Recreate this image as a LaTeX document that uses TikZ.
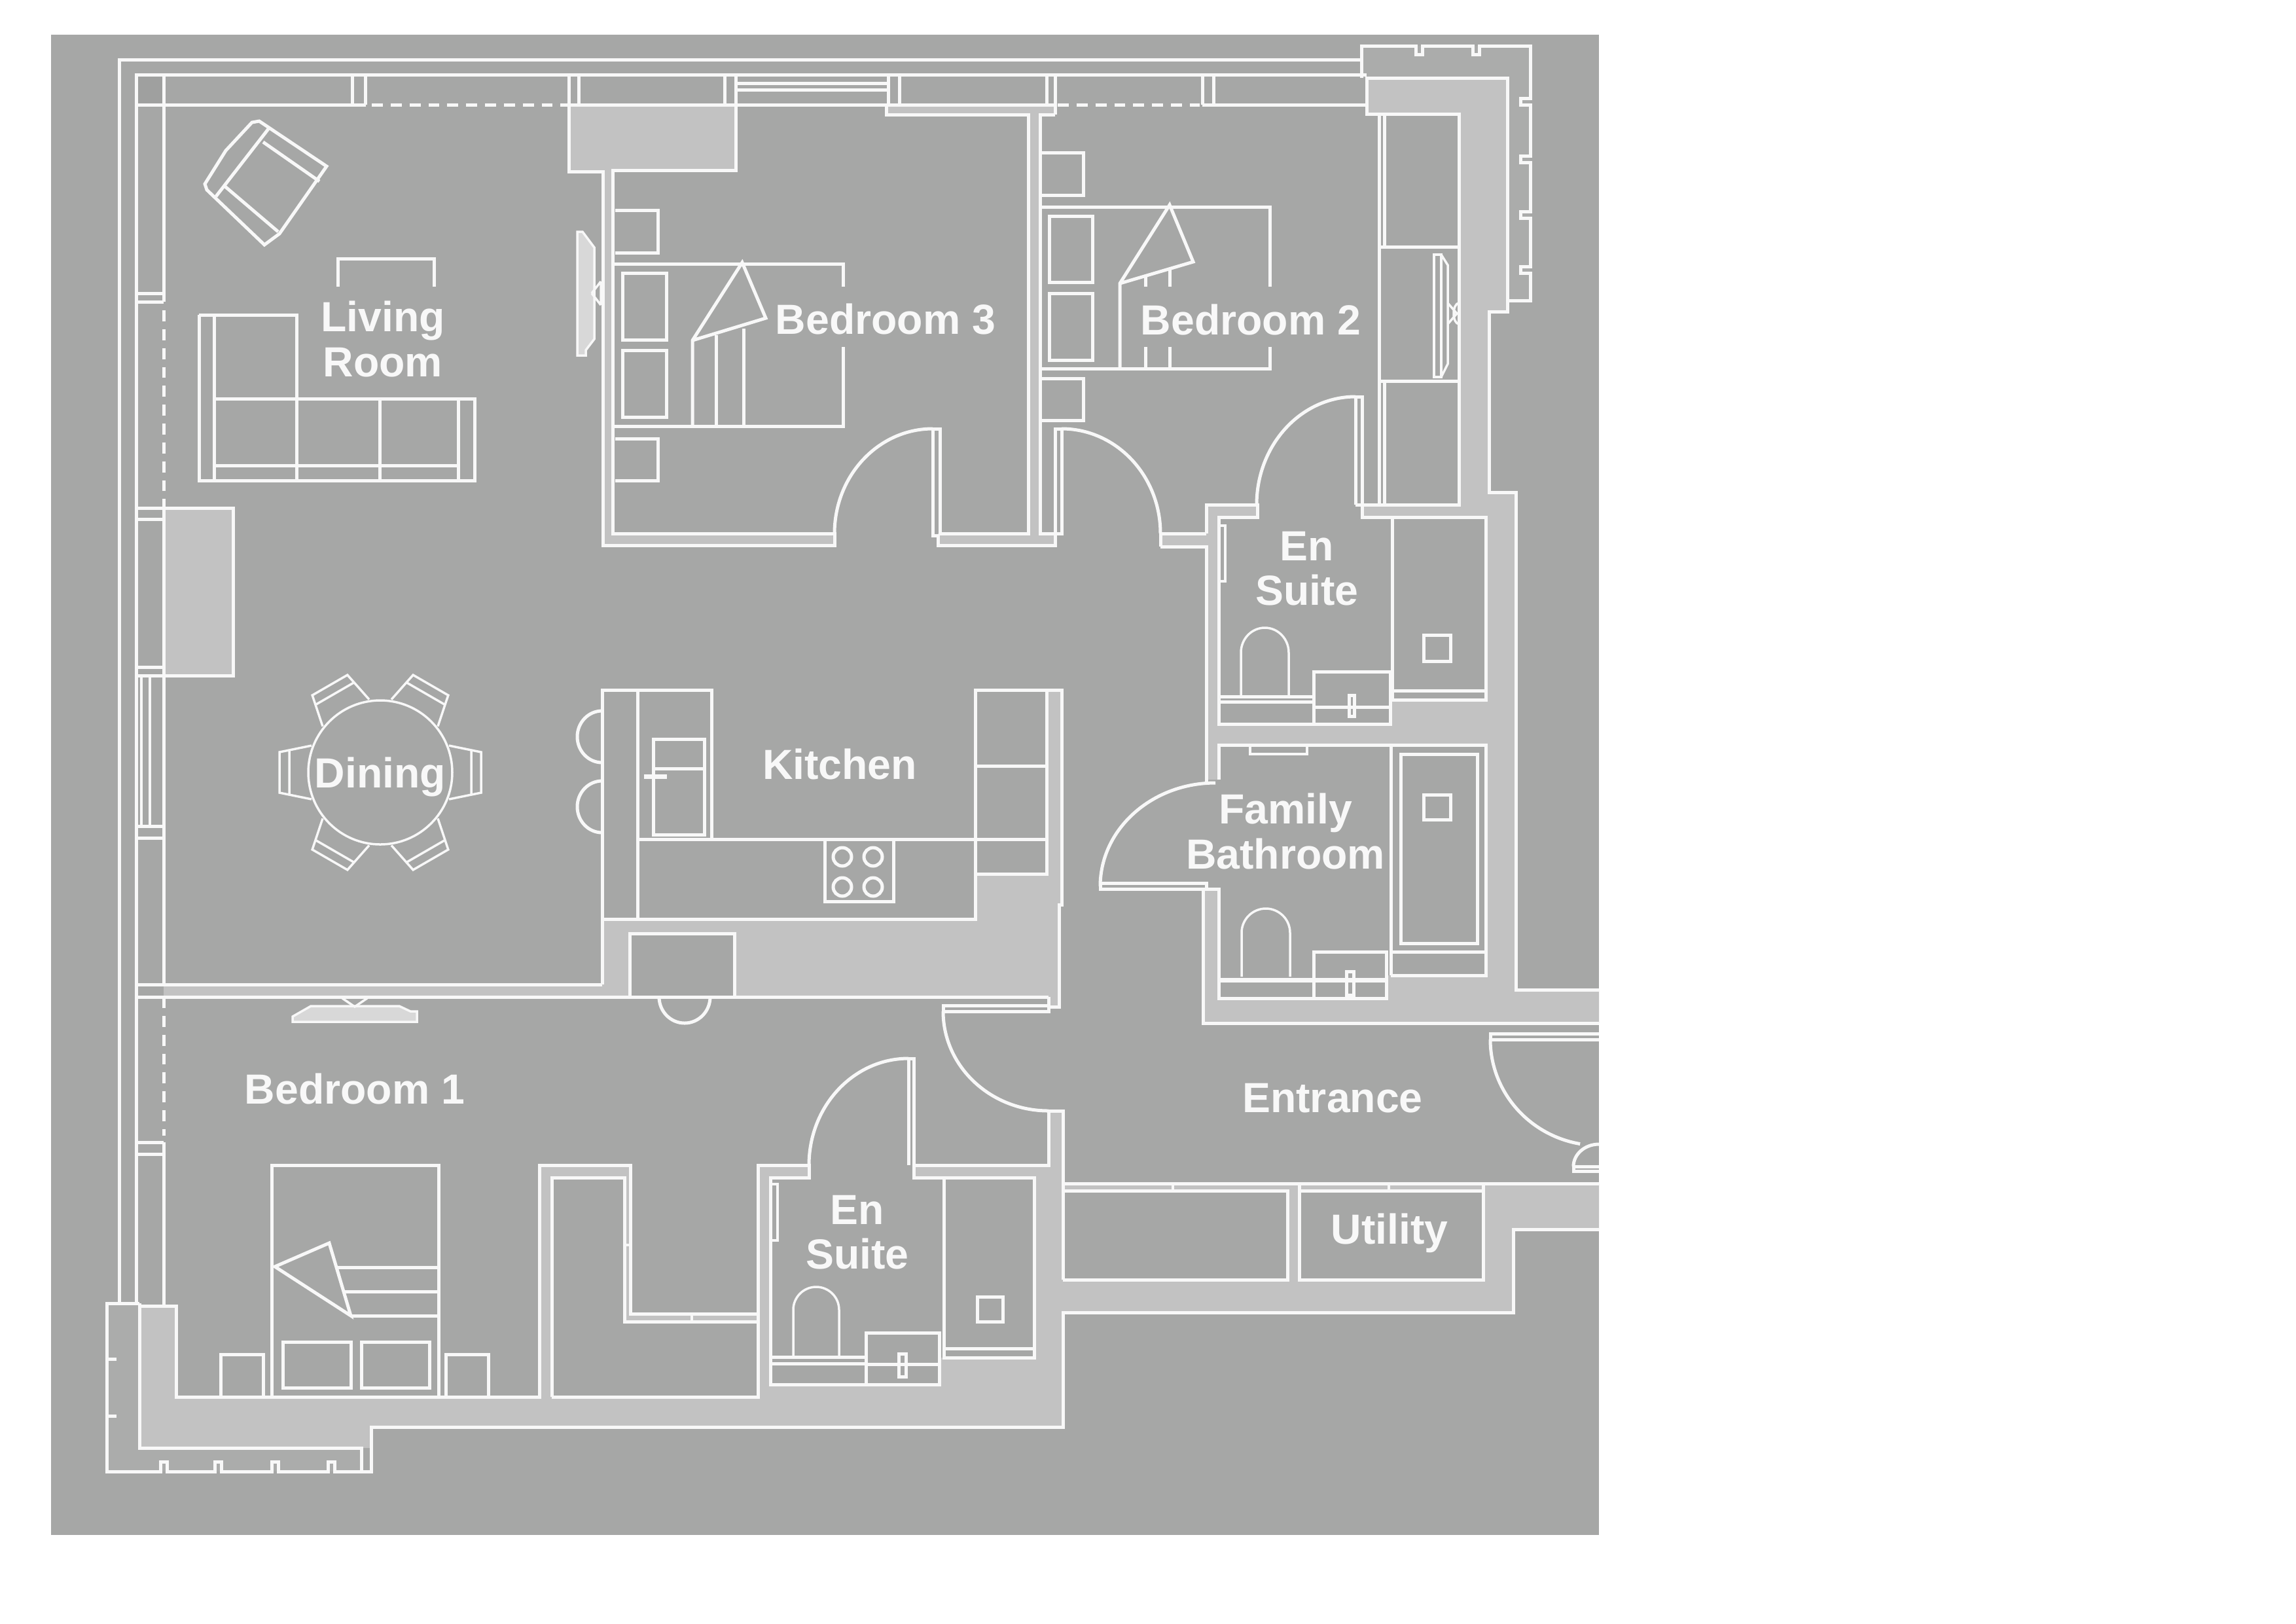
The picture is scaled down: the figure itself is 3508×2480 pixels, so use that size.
\documentclass[tikz,border=0pt]{standalone}
\usepackage{fontspec}
\setmainfont{Liberation Sans}
\definecolor{PlanGrey}{HTML}{A6A7A6}
\definecolor{WallGrey}{HTML}{C2C2C2}
\definecolor{OuterGrey}{HTML}{ABACAB}
\definecolor{CellGrey}{HTML}{9FA09F}
\definecolor{ScreenGrey}{HTML}{D8D8D8}
\definecolor{PlanWhite}{HTML}{F8F8F8}

\begin{document}
\begin{tikzpicture}[x=0.01cm, y=-0.01cm,
 wall/.style = {draw=PlanWhite, line width=0.05cm, line join=miter},
 thinwall/.style = {draw=PlanWhite, line width=0.035cm},
 glass/.style = {draw=PlanWhite, line width=0.05cm, dash pattern=on 4.8pt off 3.4pt},
 mass/.style = {fill=WallGrey},
 room/.style = {fill=PlanGrey},
 screen/.style = {draw=PlanWhite, line width=0.035cm, fill=ScreenGrey},
 roomlabel/.style = {text=PlanWhite, inner sep=0pt, align=center,
                     font=\fontsize{18.3}{19.4}\selectfont\bfseries},
                        ]

    \useasboundingbox (0,0) rectangle (3508,2480);
    \fill [white] (0,0) rectangle (3508,2480);
    \fill [PlanGrey] (78,53) rectangle (2443,2345);

    \fill [CellGrey] (208,114) rectangle (250,160);
    \fill [OuterGrey] (163,1991) -- (213,1991) -- (213,2212) -- (552,2212) -- (552,2248) -- (163,2248) -- cycle;
    \fill [OuterGrey] (2080,70) -- (2338,70) -- (2338,459) -- (2303,459) -- (2303,119) -- (2080,119) -- cycle;

    \fill [mass] (869,160) -- (1124,160) -- (1124,260) -- (936,260) -- (936,815) -- (1272,815) -- (1275,833) -- (921,833) -- (921,262) -- (869,262) -- cycle;
    \fill [mass] (1354,160) -- (1614,160) -- (1614,175) -- (1589,175) -- (1589,815) -- (1612,815) -- (1612,833) -- (1433,833) -- (1433,815) -- (1571,815) -- (1571,175) -- (1354,175) -- cycle;
    \fill [mass] (250,776) rectangle (356,1032);
    \fill [mass] (920,1404) -- (1490,1404) -- (1490,1335) -- (1599,1335) -- (1599,1054) -- (1622,1054) -- (1622,1382) -- (1618,1382) -- (1618,1538) -- (1602,1538) -- (1602,1523) -- (250,1523) -- (250,1504) -- (920,1504) -- cycle;
    \fill [mass] (1773,815) rectangle (1843,835);
    \fill [mass] (2088,119) -- (2303,119) -- (2303,476) -- (2275,476) -- (2275,752) -- (2316,752) -- (2316,1512) -- (2443,1512) -- (2443,1563) -- (1838,1563) -- (1838,1358) -- (1862,1358) -- (1862,1191) -- (1843,1191) -- (1843,771) -- (1921,771) -- (1921,790) -- (2081,790) -- (2081,771) -- (2229,771) -- (2229,174) -- (2088,174) -- cycle;
    \fill [mass] (213,1995) -- (269,1995) -- (269,2134) -- (824,2134) -- (824,1780) -- (963,1780) -- (963,2007) -- (1158,2007) -- (1158,1780) -- (1602,1780) -- (1602,1697) -- (1624,1697) -- (1624,1808) -- (2443,1808) -- (2443,1878) -- (2312,1878) -- (2312,2005) -- (1624,2005) -- (1624,2180) -- (567,2180) -- (567,2212) -- (213,2212) -- cycle;

    \fill [room] (843,1799) -- (954,1799) -- (954,2019) -- (1158,2019) -- (1158,2134) -- (843,2134) -- cycle;
    \fill [room] (1177,1799) -- (1236,1799) -- (1236,1780) -- (1396,1780) -- (1396,1799) -- (1580,1799) -- (1580,2074) -- (1435,2074) -- (1435,2115) -- (1177,2115) -- cycle;
    \fill [room] (1862,788) -- (2270,788) -- (2270,1069) -- (2124,1069) -- (2124,1106) -- (1862,1106) -- cycle;
    \fill [room] (1862,1138) -- (2270,1138) -- (2270,1490) -- (2118,1490) -- (2118,1525) -- (1862,1525) -- cycle;
    \fill [room] (1623,1819) rectangle (1967,1955);
    \fill [room] (1985,1819) rectangle (2266,1955);
    \fill [room] (962,1426) rectangle (1122,1523);

    % outer frame and glazing
    \draw [wall] (2080,91) -- (182,91) -- (182,1990);
    \draw [wall] (2088,114) -- (208,114) -- (208,1991);
    \draw [wall] (250,114) -- (250,461);
    \draw [wall] (208,160) -- (559,160);
    \draw [wall] (538,114) -- (538,160) (558,114) -- (558,160);
    \draw [glass] (568,160) -- (869,160);
    \draw [wall] (869,114) -- (869,160) (884,114) -- (884,160);
    \draw [wall] (869,160) -- (1612,160);
    \draw [wall] (1107,114) -- (1107,160) (1124,114) -- (1124,160);
    \draw [wall] (1124,127) -- (1357,127) (1124,137) -- (1357,137);
    \draw [wall] (1357,114) -- (1357,160) (1374,114) -- (1374,160);
    \draw [wall] (1599,114) -- (1599,160) (1612,114) -- (1612,175);
    \draw [glass] (1616,160) -- (1833,160);
    \draw [wall] (1837,114) -- (1837,160) (1854,114) -- (1854,160);
    \draw [wall] (1837,160) -- (2088,160);

    \draw [wall] (208,448) -- (250,448) (208,461) -- (250,461);
    \draw [glass] (250,474) -- (250,776);
    \draw [wall] (208,776) -- (250,776) (208,793) -- (250,793);
    \draw [wall] (250,776) -- (250,1504);
    \draw [wall] (208,1019) -- (250,1019) (208,1032) -- (250,1032);
    \draw [thinwall] (216,1032) -- (216,1262) (229,1032) -- (229,1262);
    \draw [wall] (208,1262) -- (250,1262) (208,1280) -- (250,1280);
    \draw [wall] (250,776) -- (356,776) -- (356,1032) -- (250,1032);
    \draw [wall] (208,1504) -- (920,1504);
    \draw [wall] (208,1523) -- (1602,1523);
    \draw [glass] (250,1523) -- (250,1735);
    \draw [wall] (208,1745) -- (250,1745) (208,1763) -- (250,1763);
    \draw [wall] (250,1745) -- (250,1995);

    \draw [wall] (213,1991) -- (163,1991) -- (163,2248) -- (245,2248) -- (245,2233) -- (255,2233) -- (255,2248) -- (328,2248) -- (328,2233) -- (338,2233) -- (338,2248) -- (415,2248) -- (415,2233) -- (425,2233) -- (425,2248) -- (501,2248) -- (501,2233) -- (511,2233) -- (511,2248) -- (567,2248) -- (567,2180) -- (1624,2180) -- (1624,2005) -- (2312,2005) -- (2312,1878) -- (2443,1878);
    \draw [wall] (165,2076) -- (178,2076) (165,2163) -- (178,2163);
    \draw [wall] (213,1991) -- (213,2212) -- (552,2212) -- (552,2248);
    \draw [wall] (213,1995) -- (269,1995) -- (269,2134) -- (824,2134) -- (824,1780) -- (963,1780) -- (963,2007) -- (1158,2007);
    \draw [wall] (843,2134) -- (843,1799) -- (954,1799) -- (954,2019) -- (1158,2019);
    \draw [thinwall] (954,1902) -- (963,1902) (1057,2007) -- (1057,2019);
    \draw [wall] (843,2134) -- (1158,2134) -- (1158,1780) -- (1236,1780) -- (1236,1799) -- (1177,1799) -- (1177,2115) -- (1435,2115) -- (1435,2036) -- (1323,2036) -- (1323,2115);

    % north rooms
    \draw [wall] (869,160) -- (869,262) -- (921,262) -- (921,833) -- (1275,833) -- (1275,815) -- (936,815) -- (936,260) -- (1124,260) -- (1124,160);
    \draw [wall] (1354,160) -- (1354,175) -- (1571,175) -- (1571,815) -- (1436,815) -- (1436,655) -- (1425,655) -- (1425,818) -- (1433,818) -- (1433,833) -- (1612,833) -- (1612,655) -- (1622,655) -- (1622,815) -- (1589,815) -- (1589,175) -- (1612,175);
    \draw [wall] (1275,815) arc [start angle=180, end angle=270, x radius=150, y radius=160];
    \draw [wall] (1622,655) arc [start angle=270, end angle=360, x radius=151, y radius=160];

    % bedroom 3
    \draw [wall] (940,321) -- (1005,321) -- (1005,386) -- (940,386);
    \draw [wall] (940,670) -- (1005,670) -- (1005,734) -- (940,734);
    \draw [wall] (1288,438) -- (1288,403) -- (936,403);
    \draw [wall] (1288,530) -- (1288,651) -- (936,651);
    \draw [wall] (951,417) rectangle (1018,519);
    \draw [wall] (951,535) rectangle (1018,637);
    \draw [wall] (1058,651) -- (1058,520) -- (1134,401) -- (1170,486) -- (1058,520);
    \draw [wall] (1094,651) -- (1094,512) (1136,651) -- (1136,502);

    % bedroom 2
    \draw [wall] (1589,233) -- (1655,233) -- (1655,298) -- (1589,298);
    \draw [wall] (1589,578) -- (1655,578) -- (1655,642) -- (1589,642);
    \draw [wall] (1940,438) -- (1940,316) -- (1589,316);
    \draw [wall] (1940,530) -- (1940,563) -- (1589,563);
    \draw [wall] (1603,330) rectangle (1669,431);
    \draw [wall] (1603,448) rectangle (1669,550);
    \draw [wall] (1711,563) -- (1711,433) -- (1787,313) -- (1823,400) -- (1711,433);
    \draw [wall] (1750,423) -- (1750,438) (1750,530) -- (1750,563);
    \draw [wall] (1787,412) -- (1787,438) (1787,530) -- (1787,563);

    % north east corner
    \draw [wall, fill=none] (2080,119) -- (2080,70) -- (2163,70) -- (2163,83) -- (2173,83) -- (2173,70) -- (2250,70) -- (2250,83) -- (2260,83) -- (2260,70) -- (2338,70) -- (2338,150) -- (2323,150) -- (2323,160) -- (2338,160) -- (2338,238) -- (2323,238) -- (2323,248) -- (2338,248) -- (2338,323) -- (2323,323) -- (2323,333) -- (2338,333) -- (2338,407) -- (2323,407) -- (2323,417) -- (2338,417) -- (2338,459) -- (2303,459);
    \draw [wall] (2088,160) -- (2088,119) -- (2303,119) -- (2303,476) -- (2275,476) -- (2275,752) -- (2316,752) -- (2316,1512) -- (2443,1512);
    \draw [wall] (2088,160) -- (2088,174) -- (2229,174) -- (2229,771) -- (2071,771);
    \draw [wall] (2107,174) -- (2107,771) (2115,174) -- (2115,377) (2115,582) -- (2115,771);
    \draw [wall] (2107,377) -- (2229,377) (2107,582) -- (2229,582);
    \draw [thinwall] (2191,389) rectangle (2202,576);
    \draw [thinwall] (2202,389) -- (2212,405) -- (2212,556) -- (2202,576);
    \draw [thinwall] (2212,463) -- (2226,479) -- (2212,495);
    \draw [thinwall] (2229,463) arc [start angle=270, end angle=90, x radius=8, y radius=16];

    % en suite, north
    \draw [wall] (1773,835) -- (1773,815) -- (1843,815) (1773,835) -- (1843,835) -- (1843,1194);
    \draw [wall] (1843,815) -- (1843,771) -- (1921,771) -- (1921,790) -- (1862,790) -- (1862,1106) -- (2124,1106) -- (2124,1026) -- (2007,1026) -- (2007,1106);
    \draw [wall] (2071,771) -- (2071,606) -- (2081,606) -- (2081,790) -- (2270,790) -- (2270,1069) -- (2127,1069);
    \draw [wall] (2127,790) -- (2127,1069) (2127,1055) -- (2270,1055);
    \draw [wall] (1920,771) arc [start angle=180, end angle=270, x radius=151, y radius=165];
    \draw [wall] (2175,970) rectangle (2216,1010);
    \draw [thinwall] (1863,803) rectangle (1872,888);
    \draw [thinwall] (1896,1064) -- (1896,997) arc [start angle=180, end angle=360, x radius=36.5, y radius=38] -- (1969,1064);
    \draw [wall] (1862,1064) -- (2007,1064) (1862,1072) -- (2007,1072) (2007,1080) -- (2124,1080);
    \draw [wall] (2061,1062) rectangle (2069,1094);

    % family bathroom
    \draw [wall] (1862,1191) -- (1862,1138) -- (2270,1138) -- (2270,1490) -- (2125,1490);
    \draw [wall] (2125,1138) -- (2125,1490) (2125,1454) -- (2270,1454);
    \draw [wall] (2140,1152) rectangle (2257,1441);
    \draw [wall] (2175,1214) rectangle (2216,1252);
    \draw [thinwall] (1910,1138) -- (1910,1152) -- (1997,1152) -- (1997,1138);
    \draw [wall] (1857,1196) arc [start angle=270, end angle=180, x radius=176, y radius=158];
    \draw [wall] (1681,1349) -- (1843,1349) -- (1843,1358) -- (1681,1358) -- cycle;
    \draw [wall] (1840,1358) -- (1862,1358) -- (1862,1525) -- (2118,1525) -- (2118,1454) -- (2007,1454) -- (2007,1525);
    \draw [wall] (1838,1358) -- (1838,1563) -- (2443,1563);
    \draw [thinwall] (1897,1492) -- (1897,1425) arc [start angle=180, end angle=360, x radius=37, y radius=37] -- (1971,1492);
    \draw [wall, line width=0.07cm] (1862,1497) -- (2118,1497);
    \draw [wall] (2057,1484) rectangle (2068,1520);

    % kitchen
    \draw [wall] (920,1504) -- (920,1054) -- (1087,1054) -- (1087,1282);
    \draw [wall] (974,1054) -- (974,1404);
    \draw [wall] (920,1404) -- (1490,1404) -- (1490,1054) -- (1622,1054) -- (1622,1382) -- (1618,1382) -- (1618,1538) -- (1602,1538);
    \draw [wall] (974,1282) -- (1599,1282);
    \draw [wall] (1599,1054) -- (1599,1335) -- (1490,1335);
    \draw [wall] (1490,1170) -- (1599,1170);
    \draw [wall] (998,1129) rectangle (1076,1275);
    \draw [wall] (998,1174) -- (1076,1174);
    \draw [wall, line width=0.07cm] (984,1186) -- (1019,1186);
    \draw [wall] (1260,1282) rectangle (1365,1377);
    \draw [wall] (1287,1309) circle (14);
    \draw [wall] (1334,1309) circle (14);
    \draw [wall] (1287,1355) circle (14);
    \draw [wall] (1334,1355) circle (14);
    \draw [wall] (920,1086) arc [start angle=270, end angle=90, x radius=38, y radius=39.5];
    \draw [wall] (920,1193) arc [start angle=270, end angle=90, x radius=38, y radius=39.5];
    \draw [wall] (962,1523) -- (962,1426) -- (1122,1426) -- (1122,1523);
    \draw [wall] (1007,1523) arc [start angle=180, end angle=0, x radius=39, y radius=40];
    \draw [wall] (1441,1536) rectangle (1602,1545);
    \draw [wall] (1602,1523) -- (1602,1536);
    \draw [wall] (1441,1545) arc [start angle=180, end angle=90, x radius=161, y radius=152];

    % dining
    \coordinate (dining) at (581,1180);
    \draw [thinwall] (476,1139) -- (427,1149) -- (427,1211) -- (476,1221) (442,1146) -- (442,1214);
    \draw [thinwall, rotate around={60:(dining)}] (476,1139) -- (427,1149) -- (427,1211) -- (476,1221) (442,1146) -- (442,1214);
    \draw [thinwall, rotate around={120:(dining)}] (476,1139) -- (427,1149) -- (427,1211) -- (476,1221) (442,1146) -- (442,1214);
    \draw [thinwall, rotate around={180:(dining)}] (476,1139) -- (427,1149) -- (427,1211) -- (476,1221) (442,1146) -- (442,1214);
    \draw [thinwall, rotate around={240:(dining)}] (476,1139) -- (427,1149) -- (427,1211) -- (476,1221) (442,1146) -- (442,1214);
    \draw [thinwall, rotate around={300:(dining)}] (476,1139) -- (427,1149) -- (427,1211) -- (476,1221) (442,1146) -- (442,1214);
    \draw [thinwall, fill=PlanGrey] (dining) circle (110);

    % living room
    \draw [wall] (396,185) -- (499,254) -- (427,357) -- (404,374) -- (316,290) -- (313,281) -- (345,230) -- (385,187) -- cycle;
    \draw [wall] (410,197) -- (330,300) (402,217) -- (488,277) (344,285) -- (425,354);
    \draw [wall] (516,438) -- (516,395) -- (663,395) -- (663,438);
    \draw [wall] (304,481) -- (453,481) -- (453,734) (304,481) -- (304,734) -- (725,734) -- (725,609) -- (327,609);
    \draw [wall] (327,481) -- (327,734) (580,609) -- (580,734) (700,609) -- (700,734) (327,711) -- (700,711);
    \draw [screen] (882,354) -- (890,354) -- (908,378) -- (908,518) -- (895,535) -- (895,543) -- (882,543) -- cycle;
    \draw [thinwall] (904,448) -- (918,430) (904,448) -- (918,466) (918,430) -- (918,466);

    % bedroom 1
    \draw [screen] (447,1561) -- (637,1561) -- (637,1545) -- (627,1545) -- (610,1537) -- (475,1537) -- (447,1553) -- cycle;
    \draw [thinwall] (523,1525) -- (542,1538) -- (561,1525);
    \draw [wall] (415,2134) -- (415,1780) -- (670,1780) -- (670,2134);
    \draw [wall] (432,2050) rectangle (536,2120);
    \draw [wall] (552,2050) rectangle (656,2120);
    \draw [wall] (337,2134) -- (337,2069) -- (402,2069) -- (402,2134);
    \draw [wall] (681,2134) -- (681,2069) -- (746,2069) -- (746,2134);
    \draw [wall] (420,1935) -- (503,1899) -- (536,2010) -- cycle;
    \draw [wall] (514,1936) -- (668,1936) (527,1973) -- (668,1973) (536,2010) -- (668,2010);

    % en suite, south
    \draw [wall] (1388,1780) -- (1388,1617) -- (1396,1617) -- (1396,1799) -- (1580,1799) -- (1580,2074) -- (1442,2074) -- (1442,1799);
    \draw [wall] (1236,1780) arc [start angle=180, end angle=270, x radius=152, y radius=163];
    \draw [wall] (1396,1780) -- (1602,1780) -- (1602,1697) -- (1624,1697) -- (1624,1955);
    \draw [wall] (1442,2060) -- (1580,2060);
    \draw [wall] (1493,1981) rectangle (1532,2019);
    \draw [thinwall] (1178,1809) rectangle (1188,1895);
    \draw [thinwall] (1212,2072) -- (1212,2001) arc [start angle=180, end angle=360, x radius=35, y radius=35] -- (1282,2072);
    \draw [wall] (1177,2073) -- (1323,2073) (1177,2083) -- (1323,2083) (1323,2084) -- (1435,2084);
    \draw [wall] (1373,2068) rectangle (1384,2103);

    % entrance and utility
    \draw [wall] (1624,1808) -- (2443,1808);
    \draw [wall] (1624,1819) -- (1967,1819) -- (1967,1955) -- (1624,1955);
    \draw [wall] (1985,1808) -- (1985,1955) -- (2266,1955) -- (2266,1808) (1985,1819) -- (2266,1819);
    \draw [thinwall] (1792,1808) -- (1792,1819) (2122,1808) -- (2122,1819);
    \draw [wall] (2443,1579) -- (2277,1579) -- (2277,1588) -- (2443,1588);
    \draw [wall] (2277,1588) arc [start angle=180, end angle=100, x radius=166, y radius=162];
    \draw [wall] (2443,1748) arc [start angle=270, end angle=180, x radius=39, y radius=34];
    \draw [wall] (2443,1782) -- (2404,1782) -- (2404,1789) -- (2443,1789);

    \node [roomlabel] (livingLabel) at (585,518) {Living\\Room};
    \node [roomlabel] (bedThreeLabel) at (1353,488) {Bedroom 3};
    \node [roomlabel] (bedTwoLabel) at (1911,488) {Bedroom 2};
    \node [roomlabel] (diningLabel) at (581,1187) {Dining};
    \node [roomlabel] (kitchenLabel) at (1283,1167) {Kitchen};
    \node [roomlabel] (bedOneLabel) at (542,1663) {Bedroom 1};
    \node [roomlabel] (suiteNorthLabel) at (1997,869) {En\\Suite};
    \node [roomlabel] (bathLabel) at (1964,1270) {Family\\Bathroom};
    \node [roomlabel] (suiteSouthLabel) at (1310,1883) {En\\Suite};
    \node [roomlabel] (entranceLabel) at (2036,1678) {Entrance};
    \node [roomlabel] (utilityLabel) at (2123,1884) {Utility};

\end{tikzpicture}
\end{document}
